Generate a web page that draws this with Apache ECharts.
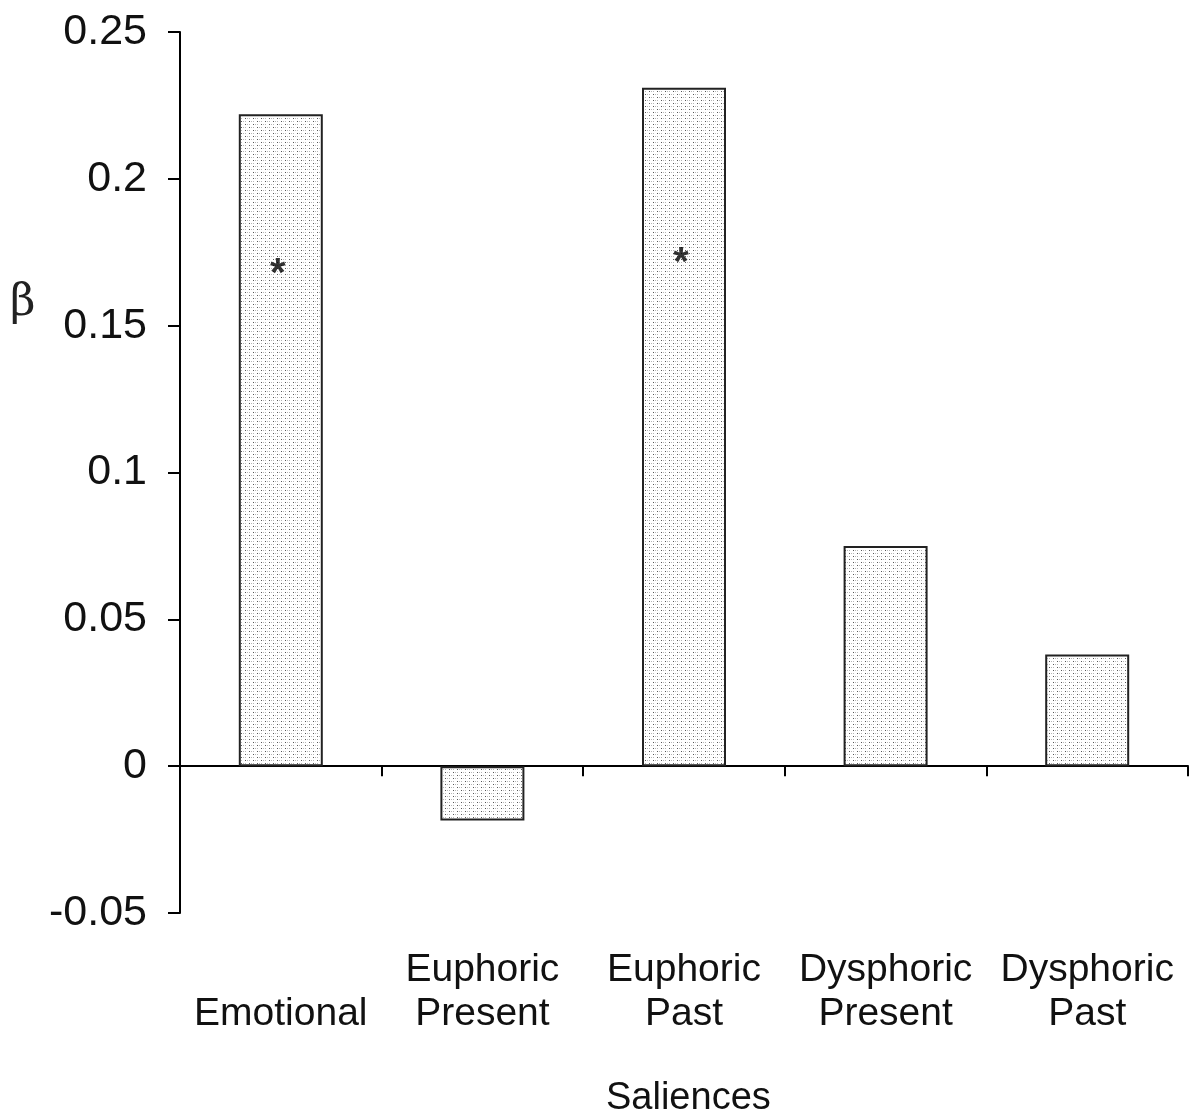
<!DOCTYPE html>
<html>
<head>
<meta charset="utf-8">
<script src="https://cdn.jsdelivr.net/npm/echarts@6/dist/echarts.min.js"></script>
<style>html,body{margin:0;padding:0;background:#fff;}#c{width:1191px;height:1113px;}</style>
</head>
<body>
<div id="c"></div>
<script>
const categories = ['\nEmotional', 'Euphoric\nPresent', 'Euphoric\nPast', 'Dysphoric\nPresent', 'Dysphoric\nPast'];
const betaValues = [0.222, -0.0185, 0.231, 0.075, 0.038];
const starPositions = [0.170, null, 0.1738, null, null];
const yMin = -0.05, yMax = 0.25, yStep = 0.05;

function makePattern() {
  const c = document.createElement('canvas');
  c.width = 8; c.height = 6;
  const g = c.getContext('2d');
  g.fillStyle = '#ffffff'; g.fillRect(0, 0, 8, 6);
  g.fillStyle = '#555555';
  g.fillRect(1, 1, 1, 1); g.fillRect(5, 4, 1, 1);
  g.fillStyle = '#b8b8b8';
  g.fillRect(3, 1, 1, 1); g.fillRect(7, 4, 1, 1);
  g.fillRect(1, 4, 1, 1); g.fillRect(5, 1, 1, 1);
  return c;
}

const chart = echarts.init(document.getElementById('c'), null, {renderer: 'canvas'});
const font = 'Liberation Sans, Arial, sans-serif';
chart.setOption({
  animation: false,
  backgroundColor: '#ffffff',
  grid: {left: 180, right: 3, top: 32, bottom: 200, containLabel: false, outerBoundsMode: 'none'},
  xAxis: {
    type: 'category',
    data: categories,
    axisLine: {onZero: true, lineStyle: {color: '#000', width: 2}},
    axisTick: {show: true, length: 10, lineStyle: {color: '#000', width: 2}},
    axisLabel: {color: '#111', fontFamily: font, fontSize: 39, lineHeight: 44, margin: 35, interval: 0}
  },
  yAxis: {
    type: 'value',
    min: yMin, max: yMax, interval: yStep,
    splitLine: {show: false},
    axisLine: {show: true, lineStyle: {color: '#000', width: 2}},
    axisTick: {show: true, length: 12, lineStyle: {color: '#000', width: 2}},
    axisLabel: {color: '#111', fontFamily: font, fontSize: 43, margin: 33,
      formatter: v => String(Math.round(v * 100) / 100)}
  },
  graphic: [
    {type: 'text', left: 10, top: 282, style: {text: 'β', font: '44px "DejaVu Serif", serif', fill: '#222'}},
    {type: 'text', left: 606, top: 1080, style: {text: 'Saliences', font: '38px ' + font, fill: '#111'}}
  ],
  series: [
    {
      type: 'bar',
      data: betaValues,
      barWidth: 84,
      itemStyle: {color: {image: makePattern(), repeat: 'repeat'}, borderColor: '#222', borderWidth: 2},
      z: 2
    },
    {
      type: 'scatter',
      data: starPositions,
      symbolSize: 1,
      itemStyle: {color: 'rgba(0,0,0,0)'},
      label: {show: true, position: 'inside', formatter: '*', fontSize: 40, fontWeight: 'bold', color: '#000', fontFamily: font, offset: [-3, 8]},
      z: 5
    }
  ]
});
</script>
</body>
</html>
